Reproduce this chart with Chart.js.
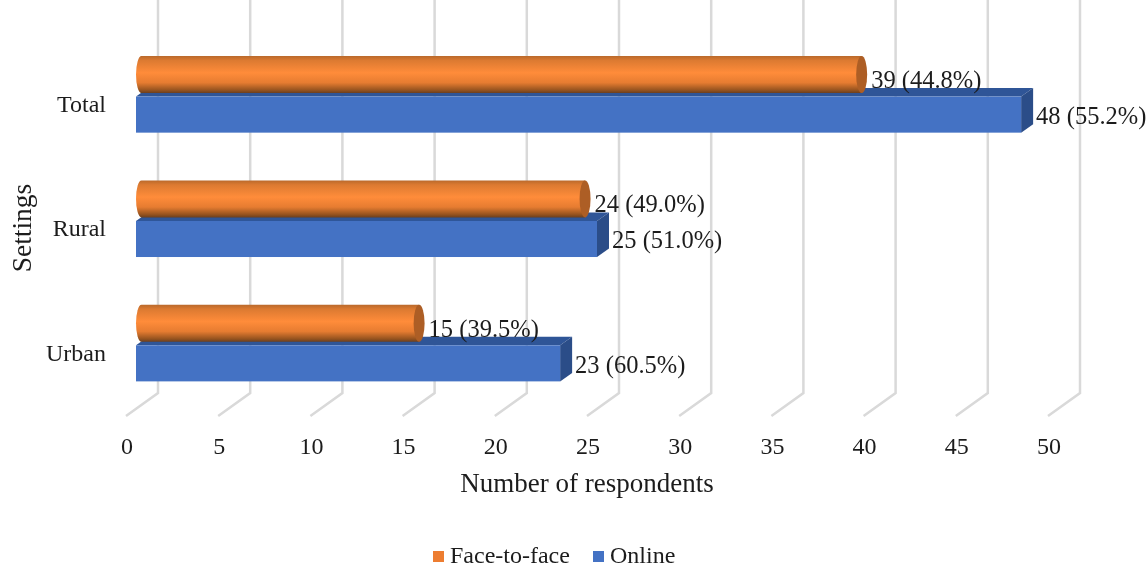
<!DOCTYPE html>
<html>
<head>
<meta charset="utf-8">
<style>
  html, body { margin: 0; padding: 0; background: #fff; }
  #wrap { width: 1148px; height: 567px; }
</style>
<script src="https://cdn.jsdelivr.net/npm/chart.js@4"></script>
</head>
<body>
<div id="wrap"><canvas id="chart" width="1148" height="567"></canvas></div>
<script>
const settings = ['Total', 'Rural', 'Urban'];
const faceToFace = [39, 24, 15];
const online = [48, 25, 23];
const faceToFaceShare = ['44.8%', '49.0%', '39.5%'];
const onlineShare = ['55.2%', '51.0%', '60.5%'];
const tickStep = 5;
const tickMax = 50;

const serif = '"Liberation Serif", serif';
const textColor = '#1c1c1c';
const depth = 10; // bars sit this far in from the front edge of the floor

// Excel style floor and back wall lines, taken from the x scale
const wallGrid = {
  id: 'wallGrid',
  beforeDatasetsDraw(chart) {
    const { ctx, scales: { x } } = chart;
    ctx.save();
    ctx.strokeStyle = '#d9d9d9';
    ctx.lineWidth = 2.5;
    x.ticks.forEach(t => {
      const px = x.getPixelForValue(t.value);
      ctx.beginPath();
      ctx.moveTo(px + 32, 0);
      ctx.lineTo(px + 32, 393);
      ctx.lineTo(px, 416);
      ctx.stroke();
    });
    ctx.restore();
  }
};

function drawBox(ctx, bar) {
  const top = bar.y - bar.height / 2;
  const bottom = bar.y + bar.height / 2;
  const left = bar.base + depth;
  const right = bar.x + depth;
  const dx = 12, dy = 8.5;
  ctx.fillStyle = '#2f5597';
  ctx.beginPath();
  ctx.moveTo(left, top);
  ctx.lineTo(left + dx, top - dy);
  ctx.lineTo(right + dx, top - dy);
  ctx.lineTo(right, top);
  ctx.closePath();
  ctx.fill();
  ctx.fillStyle = '#2b4d88';
  ctx.beginPath();
  ctx.moveTo(right, top);
  ctx.lineTo(right + dx, top - dy);
  ctx.lineTo(right + dx, bottom - dy);
  ctx.lineTo(right, bottom);
  ctx.closePath();
  ctx.fill();
  ctx.fillStyle = bar.options.backgroundColor;
  ctx.fillRect(left, top, right - left, bottom - top);
}

function drawCylinder(ctx, bar) {
  const rx = 5.5;
  const top = bar.y - bar.height / 2 - 4.5;
  const bottom = bar.y + bar.height / 2 - 3.5;
  const ry = (bottom - top) / 2;
  const mid = (top + bottom) / 2;
  const left = bar.base + depth + rx;
  const right = bar.x + depth + 6.5;
  const g = ctx.createLinearGradient(0, top, 0, bottom);
  g.addColorStop(0, '#b9692b');
  g.addColorStop(0.12, '#dc7a31');
  g.addColorStop(0.45, '#ff8c3a');
  g.addColorStop(0.72, '#e67c31');
  g.addColorStop(0.92, '#96531f');
  g.addColorStop(1, '#6b3f1e');
  ctx.fillStyle = g;
  ctx.beginPath();
  ctx.ellipse(left, mid, rx, ry, 0, Math.PI / 2, Math.PI * 1.5);
  ctx.lineTo(right, top);
  ctx.lineTo(right, bottom);
  ctx.closePath();
  ctx.fill();
  ctx.fillStyle = '#ad5e25';
  ctx.beginPath();
  ctx.ellipse(right, mid, rx, ry, 0, 0, Math.PI * 2);
  ctx.fill();
}

const bars3d = {
  id: 'bars3d',
  beforeDatasetDraw(chart, args) {
    const { ctx } = chart;
    ctx.save();
    args.meta.data.forEach(bar => (args.index === 1 ? drawBox : drawCylinder)(ctx, bar));
    ctx.restore();
    return false;
  }
};

const valueLabels = {
  id: 'valueLabels',
  afterDatasetsDraw(chart) {
    const { ctx } = chart;
    ctx.save();
    ctx.font = '24.5px ' + serif;
    ctx.fillStyle = textColor;
    ctx.textBaseline = 'middle';
    ctx.textAlign = 'left';
    chart.getDatasetMeta(0).data.forEach((bar, i) => {
      ctx.fillText(faceToFace[i] + ' (' + faceToFaceShare[i] + ')', bar.x + depth + 16, bar.y + 3);
    });
    chart.getDatasetMeta(1).data.forEach((bar, i) => {
      ctx.fillText(online[i] + ' (' + onlineShare[i] + ')', bar.x + depth + 15, bar.y + 3);
    });
    ctx.restore();
  }
};

// legend keeps the tight gap between swatch and text of the original,
// the y title sits lower than the scale centre
const sideTexts = {
  id: 'sideTexts',
  afterDraw(chart) {
    const { ctx } = chart;
    const starts = [433, 593];
    ctx.save();
    ctx.font = '24px ' + serif;
    ctx.textBaseline = 'middle';
    ctx.textAlign = 'left';
    chart.data.datasets.forEach((ds, i) => {
      ctx.fillStyle = ds.backgroundColor;
      ctx.fillRect(starts[i], 551, 11, 11);
      ctx.fillStyle = textColor;
      ctx.fillText(ds.label, starts[i] + 17, 557);
    });
    ctx.font = '27.5px ' + serif;
    ctx.textAlign = 'center';
    ctx.translate(24, 228);
    ctx.rotate(-Math.PI / 2);
    ctx.fillText('Settings', 0, 0);
    ctx.restore();
  }
};

new Chart(document.getElementById('chart'), {
  type: 'bar',
  data: {
    labels: settings,
    datasets: [
      { label: 'Face-to-face', data: faceToFace, backgroundColor: '#ed7d31', categoryPercentage: 0.58, barPercentage: 1 },
      { label: 'Online', data: online, backgroundColor: '#4472c4', categoryPercentage: 0.58, barPercentage: 1 }
    ]
  },
  options: {
    indexAxis: 'y',
    responsive: false,
    animation: false,
    layout: { padding: { top: 20.5, right: 100, left: 11, bottom: 66 } },
    plugins: {
      tooltip: { enabled: false },
      legend: { display: false }
    },
    scales: {
      x: {
        min: 0,
        max: tickMax,
        grid: { display: false, drawTicks: false },
        border: { display: false },
        ticks: { stepSize: tickStep, color: textColor, padding: 26, labelOffset: 1, maxRotation: 0, font: { family: serif, size: 24 } },
        title: { display: true, text: 'Number of respondents', color: textColor, padding: 0, font: { family: serif, size: 27 } },
        afterFit(scale) { scale.height = 93.5; }
      },
      y: {
        grid: { display: false, drawTicks: false },
        border: { display: false },
        ticks: { color: textColor, padding: 20, labelOffset: 9, font: { family: serif, size: 24 } },
        afterFit(scale) { scale.width = 115; }
      }
    }
  },
  plugins: [wallGrid, bars3d, valueLabels, sideTexts]
});
</script>
</body>
</html>
